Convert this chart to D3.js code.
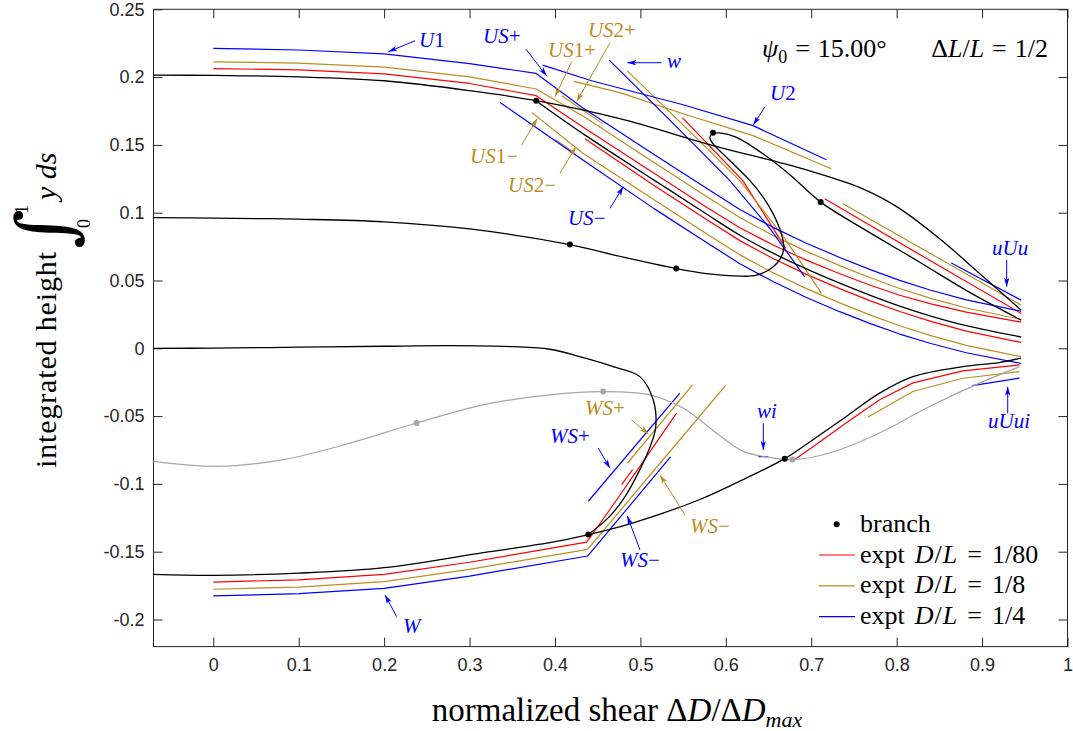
<!DOCTYPE html>
<html>
<head>
<meta charset="utf-8">
<script src="https://cdn.jsdelivr.net/npm/d3@7/dist/d3.min.js"></script>
<style>
  body { margin: 0; background: #fff; }
  .tick text { font-family: "Liberation Sans", Arial, sans-serif; font-size: 18px; fill: #262626; }
  .tick line { stroke: #262626; stroke-width: 1; }
  .serif { font-family: "Liberation Serif", "Times New Roman", serif; }
</style>
</head>
<body>
<svg id="chart" width="1073" height="731"></svg>
<script>
const xTicks = [0, 0.1, 0.2, 0.3, 0.4, 0.5, 0.6, 0.7, 0.8, 0.9, 1];
const xTickLabels = ["0", "0.1", "0.2", "0.3", "0.4", "0.5", "0.6", "0.7", "0.8", "0.9", "1"];
const yTicks = [-0.2, -0.15, -0.1, -0.05, 0, 0.05, 0.1, 0.15, 0.2, 0.25];
const yTickLabels = ["-0.2", "-0.15", "-0.1", "-0.05", "0", "0.05", "0.1", "0.15", "0.2", "0.25"];

// solution branches (black), [shear, height]
const branchTop = [[-0.07,0.2015],[0,0.2012],[0.1,0.2002],[0.2,0.1973],[0.3,0.1900],[0.378,0.1826],
  [0.476,0.1693],[0.585,0.1495],[0.663,0.1370],[0.70,0.1305],[0.757,0.1185],[0.80,0.1045],[0.85,0.0810],
  [0.90,0.0535],[0.9458,0.0280]];
const branchMid = [[-0.07,0.0963],[0,0.0960],[0.1,0.0952],[0.2,0.0933],[0.3,0.0880],[0.4175,0.0765],
  [0.48,0.0672],[0.542,0.0588],[0.5774,0.0551],[0.6164,0.0532],[0.636,0.0539],[0.6553,0.0600],[0.665,0.0674],
  [0.6678,0.0747],[0.665,0.0846],[0.6553,0.0993],[0.6436,0.1115],[0.628,0.1238],[0.6008,0.1409],
  [0.5852,0.1507],[0.5813,0.1554],[0.5848,0.1584],[0.593,0.1588],[0.6125,0.1556],[0.64,0.1450],
  [0.675,0.1280],[0.7111,0.1078],[0.768,0.0855],[0.827,0.0635],[0.885,0.0414],[0.9458,0.0208]];
const branchSteep = [[0.3778,0.1826],[0.4331,0.1581],[0.516,0.1240],[0.5774,0.0990],[0.6164,0.0834],
  [0.6553,0.0702],[0.6943,0.0585],[0.7333,0.0480],[0.77,0.0388],[0.8035,0.0311],[0.84,0.0238],
  [0.8815,0.0167],[0.9458,0.0083]];
const branchZero = [[-0.07,0],[0,0.0001],[0.1,0.0008],[0.2,0.0015],[0.277,0.0019],[0.35,0.0012],
  [0.394,-0.0007],[0.429,-0.0062],[0.468,-0.0135],[0.4994,-0.0209],[0.515,-0.038],[0.518,-0.0576],
  [0.513,-0.0699],[0.4994,-0.0895],[0.4799,-0.1115],[0.4605,-0.1262],[0.439,-0.1373]];
const branchW = [[-0.07,-0.1667],[0,-0.1674],[0.1,-0.1658],[0.2,-0.1618],[0.316,-0.1507],[0.394,-0.1434],
  [0.438,-0.1376],[0.4916,-0.1287],[0.5696,-0.1115],[0.628,-0.0944],[0.669,-0.0814],[0.702,-0.0674],
  [0.741,-0.0503],[0.780,-0.0331],[0.819,-0.0209],[0.8775,-0.0135],[0.92,-0.0105],[0.9458,-0.0072]];
const branchGray = [[-0.07,-0.0834],[0.0043,-0.0871],[0.0822,-0.0821],[0.160,-0.0699],[0.238,-0.0551],
  [0.316,-0.0417],[0.394,-0.0343],[0.4565,-0.0319],[0.511,-0.0343],[0.550,-0.0441],[0.589,-0.0625],
  [0.6203,-0.076],[0.6476,-0.0801],[0.678,-0.0821],[0.7216,-0.0772],[0.780,-0.0625],[0.8386,-0.0429],
  [0.897,-0.0257],[0.944,-0.0135]];
const branchDots = [[0.378,0.1826],[0.585,0.159],[0.711,0.1078],[0.4175,0.0765],[0.542,0.0588],
  [0.439,-0.1373],[0.669,-0.0814]];
const grayDots = [[0.238,-0.0551],[0.4565,-0.0319],[0.678,-0.0821]];

// experiments D/L = 1/80 (red)
const redU1 = [[0,0.2063],[0.1,0.2053],[0.2,0.2024],[0.3,0.1953],[0.378,0.1863],[0.4331,0.1631],[0.516,0.1290],
  [0.5774,0.1040],[0.6164,0.0889],[0.6553,0.0762],[0.6943,0.0650],[0.7333,0.0550],[0.77,0.0463],[0.8035,0.0391],
  [0.84,0.0328],[0.8815,0.0267],[0.9458,0.0193]];
const redUSlow = [[0.4351,0.1545],[0.516,0.1200],[0.5774,0.0950],[0.6164,0.0794],[0.6553,0.0662],[0.6943,0.0545],
  [0.7333,0.0440],[0.77,0.0348],[0.8035,0.0271],[0.84,0.0198],[0.8815,0.0127],[0.9458,0.0043]];
const redW_ = [[0.5494,0.1699],[0.6199,0.1237],[0.6702,0.0737]];
const redB2 = [[0.7158,0.1103],[0.83,0.0680],[0.9458,0.0257]];
const redW = [[0,-0.1724],[0.1,-0.1708],[0.2,-0.1668],[0.3,-0.1578],[0.4371,-0.1429],[0.4643,-0.1189],
  [0.4994,-0.0871],[0.5423,-0.0478]];
const redWS = [[0.478,-0.1005],[0.4909,-0.0895]];
const redUUi = [[0.6807,-0.0821],[0.7021,-0.0726],[0.7411,-0.0549],[0.7801,-0.0380],[0.8191,-0.0255],
  [0.8775,-0.0167],[0.9439,-0.0123]];

// experiments D/L = 1/8 (gold)
const goldU1 = [[0,0.2113],[0.1,0.2103],[0.2,0.2074],[0.3,0.2002],[0.378,0.1912],[0.4331,0.1711],[0.516,0.1370],
  [0.5774,0.1120],[0.6164,0.0964],[0.6553,0.0832],[0.6943,0.0715],[0.7333,0.0610],[0.77,0.0518],[0.8035,0.0441],
  [0.84,0.0368],[0.8815,0.0297],[0.9458,0.0213]];
const goldUS2p = [[0.4079,0.1863],[0.4561,0.1655]];
const goldUS1m = [[0.3728,0.1740],[0.4331,0.1436],[0.516,0.1095],[0.5774,0.0845],[0.6164,0.0689],[0.6553,0.0557],
  [0.6943,0.0440],[0.7333,0.0335],[0.77,0.0243],[0.8035,0.0166],[0.84,0.0093],[0.8815,0.0022],[0.9458,-0.0062]];
const goldUS2m = [[0.40,0.1540],[0.42,0.1455]];
const goldW_ = [[0.4846,0.2046],[0.552,0.1635],[0.6164,0.1237],[0.669,0.0811],[0.7119,0.0405]];
const goldU2 = [[0.4222,0.1968],[0.476,0.1885],[0.55,0.1730],[0.6319,0.1568],[0.7236,0.1324]];
const goldB2 = [[0.7372,0.1066],[0.84,0.0697],[0.9458,0.0318]];
const goldW = [[0,-0.1777],[0.1,-0.1761],[0.2,-0.1721],[0.3,-0.1630],[0.4382,-0.1483],[0.52,-0.0870],[0.5996,-0.0275]];
const goldWSp = [[0.485,-0.0846],[0.561,-0.027]];
const goldUUi = [[0.7665,-0.0507],[0.819,-0.0319],[0.8775,-0.0221],[0.9439,-0.0172]];

// experiments D/L = 1/4 (blue)
const blueU1 = [[0,0.2212],[0.1,0.2200],[0.2,0.2171],[0.3,0.2100],[0.378,0.2027],[0.4331,0.1771],[0.516,0.1430],
  [0.5774,0.1180],[0.6164,0.1024],[0.6553,0.0892],[0.6943,0.0775],[0.7333,0.0670],[0.77,0.0578],[0.8035,0.0501],
  [0.84,0.0428],[0.8815,0.0357],[0.9458,0.0273]];
const blueUSm = [[0.3357,0.1813],[0.4331,0.1386],[0.516,0.1030],[0.5774,0.0780],[0.6164,0.0624],[0.6553,0.0492],
  [0.6943,0.0375],[0.7333,0.0270],[0.77,0.0180],[0.8035,0.0105],[0.84,0.0035],[0.8815,-0.0033],[0.9458,-0.0112]];
const blueW_ = [[0.4635,0.2125],[0.5345,0.1683],[0.6047,0.1237],[0.6515,0.0885],[0.6924,0.0527]];
const blueU2 = [[0.3856,0.2088],[0.4429,0.1973],[0.55,0.1796],[0.6319,0.1642],[0.7178,0.1390]];
const blueUUu = [[0.864,0.0629],[0.9458,0.0355]];
const blueW = [[0,-0.1826],[0.1,-0.1810],[0.2,-0.1770],[0.3,-0.1680],[0.4382,-0.1532],[0.5353,-0.0801]];
const blueWSp = [[0.439,-0.1128],[0.5462,-0.0331]];
const blueWi = [[0.6381,-0.0799],[0.6498,-0.0799]];
const blueUUi = [[0.8885,-0.0275],[0.9439,-0.022]];

const RED = "#ff0000", GOLD = "#bf8b1f", BLUE = "#0000ff", GRAY = "#a6a6a6";

const svg = d3.select("#chart");
const x = d3.scaleLinear().domain([-0.07, 1]).range([153.5, 1067.5]);
const y = d3.scaleLinear().domain([-0.22, 0.25]).range([646.6, 9.3]);

const smooth = d3.line().x(d => x(d[0])).y(d => y(d[1])).curve(d3.curveCatmullRom.alpha(0.5));
const straight = d3.line().x(d => x(d[0])).y(d => y(d[1]));

// axes, ticks pointing inward on all four sides
svg.append("g").attr("transform", `translate(0,${y(-0.22)})`)
  .call(d3.axisBottom(x).tickValues(xTicks).tickFormat((d, i) => xTickLabels[i]).tickSize(-9).tickPadding(12))
  .call(g => g.select(".domain").remove());
svg.append("g").attr("transform", `translate(0,${y(0.25)})`)
  .call(d3.axisTop(x).tickValues(xTicks).tickFormat("").tickSize(-9))
  .call(g => g.select(".domain").remove());
svg.append("g").attr("transform", `translate(${x(-0.07)},0)`)
  .call(d3.axisLeft(y).tickValues(yTicks).tickFormat((d, i) => yTickLabels[i]).tickSize(-9).tickPadding(9))
  .call(g => g.select(".domain").remove());
svg.append("g").attr("transform", `translate(${x(1)},0)`)
  .call(d3.axisRight(y).tickValues(yTicks).tickFormat("").tickSize(-9))
  .call(g => g.select(".domain").remove());
svg.append("rect")
  .attr("x", x(-0.07)).attr("y", y(0.25))
  .attr("width", x(1) - x(-0.07)).attr("height", y(-0.22) - y(0.25))
  .attr("fill", "none").attr("stroke", "#262626").attr("stroke-width", 1);

const plot = svg.append("g").attr("fill", "none").attr("stroke-linejoin", "round");

// experiment curves
const expt = [
  [redU1, RED], [redUSlow, RED], [redW_, RED], [redB2, RED], [redW, RED], [redWS, RED], [redUUi, RED],
  [goldU1, GOLD], [goldUS2p, GOLD], [goldUS1m, GOLD], [goldUS2m, GOLD], [goldW_, GOLD], [goldU2, GOLD],
  [goldB2, GOLD], [goldW, GOLD], [goldWSp, GOLD], [goldUUi, GOLD],
  [blueU1, BLUE], [blueUSm, BLUE], [blueW_, BLUE], [blueU2, BLUE], [blueUUu, BLUE], [blueW, BLUE],
  [blueWSp, BLUE], [blueWi, BLUE], [blueUUi, BLUE]
];
expt.forEach(([pts, c]) => {
  plot.append("path").attr("d", straight(pts)).attr("stroke", c).attr("stroke-width", 1.2);
});

// branches
plot.append("path").attr("d", smooth(branchGray)).attr("stroke", GRAY).attr("stroke-width", 1.2);
[branchTop, branchMid, branchSteep, branchZero, branchW].forEach(pts => {
  plot.append("path").attr("d", smooth(pts)).attr("stroke", "#000").attr("stroke-width", 1.3);
});
svg.selectAll(".gdot").data(grayDots).join("circle")
  .attr("cx", d => x(d[0])).attr("cy", d => y(d[1])).attr("r", 3).attr("fill", GRAY);
svg.selectAll(".bdot").data(branchDots).join("circle")
  .attr("cx", d => x(d[0])).attr("cy", d => y(d[1])).attr("r", 3).attr("fill", "#000");

// arrowheads
const defs = svg.append("defs");
[["b", BLUE], ["g", GOLD]].forEach(([id, c]) => {
  defs.append("marker").attr("id", "ah-" + id)
    .attr("viewBox", "0 0 10 6").attr("refX", 10).attr("refY", 3)
    .attr("markerWidth", 9).attr("markerHeight", 5.4).attr("markerUnits", "userSpaceOnUse")
    .attr("orient", "auto")
    .append("path").attr("d", "M0,0L10,3L0,6L2.5,3Z").attr("fill", c);
});

function mathText(sel, pieces) {
  pieces.forEach(p => {
    const t = sel.append("tspan").text(p[0]);
    if (p[1] === "i") t.attr("font-style", "italic");
    if (p[2]) t.attr("dx", p[2]);
  });
}

// curve labels with arrows (label position, arrow tail, arrow head in data units)
const notes = [
  ["b", [["U", "i"], ["1", "n"]], [0.2409, 0.2222], [0.2361, 0.2268], [0.2049, 0.2187]],
  ["b", [["US", "i"], ["+", "n"]], [0.3158, 0.2251], [0.3661, 0.2205], [0.3903, 0.2008]],
  ["g", [["US", "i"], ["1+", "n"]], [0.3918, 0.2148], [0.4196, 0.2114], [0.4000, 0.1855]],
  ["g", [["US", "i"], ["2+", "n"]], [0.4386, 0.2296], [0.4644, 0.2254], [0.4254, 0.1819]],
  ["b", [["w", "i"]], [0.5311, 0.2067], [0.5249, 0.2106], [0.4847, 0.2106]],
  ["b", [["U", "i"], ["2", "n"]], [0.6517, 0.1831], [0.6459, 0.1782], [0.6322, 0.1647]],
  ["g", [["US", "i"], ["1\u2212", "n"]], [0.3005, 0.1367], [0.3610, 0.1499], [0.3793, 0.1696]],
  ["g", [["US", "i"], ["2\u2212", "n"]], [0.3450, 0.1153], [0.4059, 0.1291], [0.4246, 0.1487]],
  ["b", [["US", "i"], ["\u2212", "n"]], [0.4152, 0.0909], [0.4644, 0.1032], [0.4800, 0.1192]],
  ["b", [["uUu", "i"]], [0.9116, 0.0688], [0.9288, 0.0651], [0.9288, 0.0454]],
  ["b", [["uUui", "i"]], [0.9069, -0.0588], [0.9300, -0.0479], [0.9300, -0.0283]],
  ["g", [["WS", "i"], ["+", "n"]], [0.4352, -0.0492], [0.4898, -0.0529], [0.5092, -0.0632]],
  ["b", [["WS", "i"], ["+", "n"]], [0.3942, -0.0698], [0.4507, -0.0737], [0.4644, -0.0885]],
  ["b", [["wi", "i"]], [0.6365, -0.0514], [0.6439, -0.0553], [0.6439, -0.0750]],
  ["g", [["WS", "i"], ["\u2212", "n"]], [0.5580, -0.1362], [0.5522, -0.1229], [0.5229, -0.0934]],
  ["b", [["WS", "i"], ["\u2212", "n"]], [0.4761, -0.1613], [0.4995, -0.1487], [0.4847, -0.1237]],
  ["b", [["W", "i"]], [0.2220, -0.2100], [0.2147, -0.1979], [0.2010, -0.1819]]
];
notes.forEach(([c, pieces, at, from, to]) => {
  const col = c === "b" ? BLUE : GOLD;
  svg.append("line")
    .attr("x1", x(from[0])).attr("y1", y(from[1])).attr("x2", x(to[0])).attr("y2", y(to[1]))
    .attr("stroke", col).attr("stroke-width", 1).attr("marker-end", `url(#ah-${c})`);
  const t = svg.append("text").attr("class", "serif").attr("font-size", 21).attr("fill", col)
    .attr("x", x(at[0])).attr("y", y(at[1]));
  mathText(t, pieces);
});

// parameter annotation
const ann = svg.append("text").attr("class", "serif").attr("font-size", 26).attr("x", 762).attr("y", 57);
ann.append("tspan").attr("font-style", "italic").text("\u03c8");
ann.append("tspan").attr("font-size", 18).attr("dy", 6).text("0");
ann.append("tspan").attr("dy", -6).attr("dx", 8).text("=");
ann.append("tspan").attr("dx", 8).text("15.00\u00b0");
const ann2 = svg.append("text").attr("class", "serif").attr("font-size", 26).attr("x", 1048).attr("y", 57)
  .attr("text-anchor", "end");
mathText(ann2, [["\u0394", "n"], ["L", "i"], ["/", "n"], ["L", "i"], ["=", "n", 8], ["1/2", "n", 8]]);

// legend
const legendRows = [[RED, "1/80"], [GOLD, "1/8"], [BLUE, "1/4"]];
const leg = svg.append("g").attr("class", "serif");
leg.append("circle").attr("cx", 836.7).attr("cy", 524.3).attr("r", 3).attr("fill", "#000");
leg.append("text").attr("x", 860).attr("y", 531.5).attr("font-size", 26).text("branch");
legendRows.forEach(([c, frac], i) => {
  const yy = 555 + i * 30.8;
  leg.append("line").attr("x1", 819).attr("x2", 855).attr("y1", yy).attr("y2", yy)
    .attr("stroke", c).attr("stroke-width", 1.2);
  const t = leg.append("text").attr("x", 860).attr("y", yy + 7.5).attr("font-size", 26);
  mathText(t, [["expt", "n"], ["D", "i", 10], ["/", "n", 1], ["L", "i", 1], ["=", "n", 10], [frac, "n", 10]]);
});

// axis titles
const xl = svg.append("text").attr("class", "serif").attr("font-size", 33)
  .attr("x", 617).attr("y", 721).attr("text-anchor", "middle");
mathText(xl, [["normalized shear \u0394", "n"], ["D", "i"], ["/\u0394", "n"], ["D", "i"]]);
xl.append("tspan").attr("font-style", "italic").attr("font-size", 22).attr("dy", 6).text("max");

const yl = svg.append("g").attr("class", "serif").attr("transform", "translate(56,0) rotate(-90)");
yl.append("text").attr("x", -360).attr("y", 0).attr("text-anchor", "middle").attr("font-size", 30)
  .attr("textLength", 216).attr("lengthAdjust", "spacing").text("integrated height");
yl.append("text").attr("x", -229).attr("y", 15).attr("text-anchor", "middle").attr("font-size", 76)
  .attr("font-family", "DejaVu Serif").text("\u222b");
yl.append("text").attr("x", -214).attr("y", -28).attr("font-size", 18).text("1");
yl.append("text").attr("x", -228).attr("y", 34).attr("font-size", 18).text("0");
yl.append("text").attr("x", -200).attr("y", 0).attr("font-size", 30).attr("font-style", "italic").text("y ds");
</script>
</body>
</html>
